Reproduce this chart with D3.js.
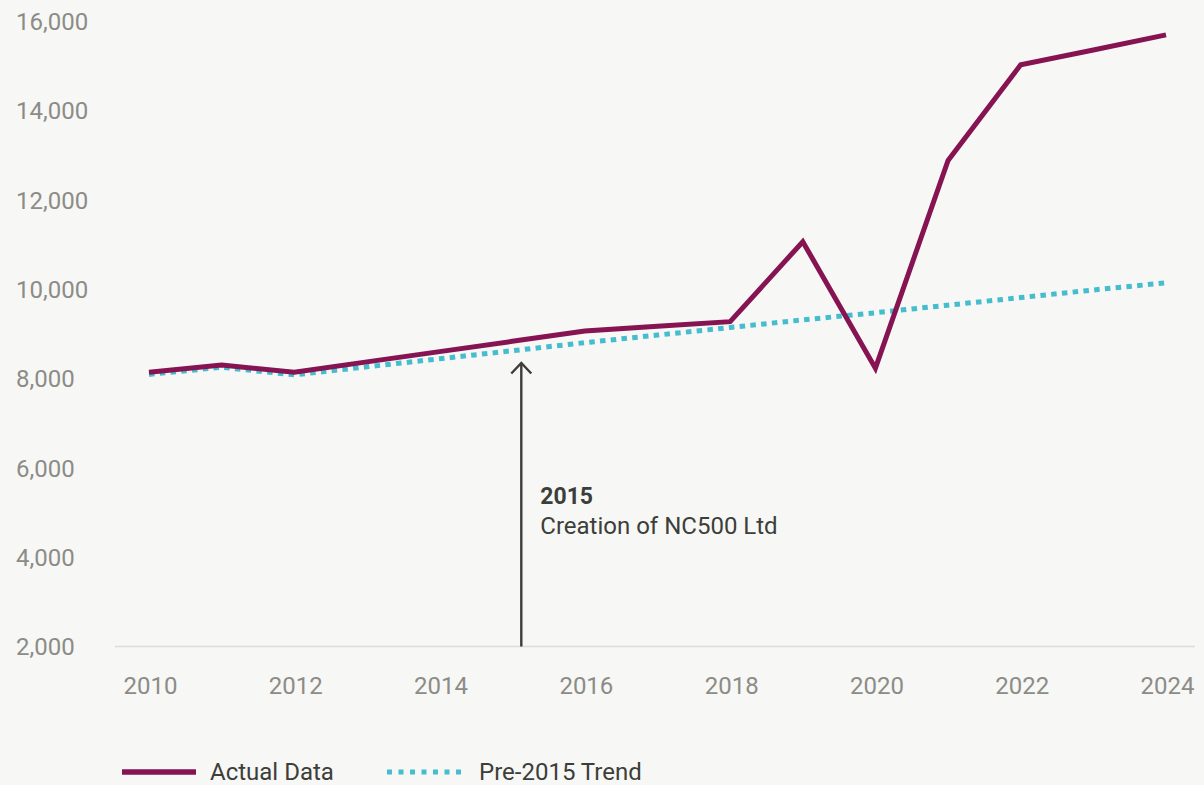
<!DOCTYPE html>
<html>
<head>
<meta charset="utf-8">
<script src="https://cdn.jsdelivr.net/npm/d3@7"></script>
<style>
  html, body { margin: 0; padding: 0; background: #f7f7f5; }
  svg { display: block; font-family: Roboto, "Noto Sans", sans-serif; }
</style>
</head>
<body>
<svg id="chart" width="1204" height="785"></svg>
<script>
// Yearly visitor figures and the straight-line trend projected from before 2015
const years = [2010, 2011, 2012, 2013, 2014, 2015, 2016, 2017, 2018, 2019, 2020, 2021, 2022, 2023, 2024];
const actualData = [8140, 8300, 8140, 8370, 8600, 8830, 9060, 9170, 9270, 11060, 8230, 12880, 15020, 15350, 15690];
const trendData = [8090, 8250, 8080, 8260, 8440, 8620, 8800, 8970, 9140, 9310, 9470, 9640, 9810, 9980, 10140];
const yTicks = [2000, 4000, 6000, 8000, 10000, 12000, 14000, 16000];
const xTicks = [2010, 2012, 2014, 2016, 2018, 2020, 2022, 2024];
const seriesNames = ["Actual Data", "Pre-2015 Trend"];
const annotationYear = 2015.125;
const annotationTitle = "2015";
const annotationText = "Creation of NC500 Ltd";

const colors = { actual: "#861352", trend: "#45bdcf", tick: "#8c8c87", ink: "#3c3e39", base: "#dcdcd9" };

const svg = d3.select("#chart");
const x = d3.scaleLinear().domain([2010, 2024]).range([149, 1166]);
const y = d3.scaleLinear().domain([2000, 16000]).range([646.5, 21]);

// baseline at the bottom of the value range
svg.append("line")
  .attr("x1", 115).attr("x2", 1195)
  .attr("y1", y(2000)).attr("y2", y(2000))
  .attr("stroke", colors.base).attr("stroke-width", 1.5);

// y axis labels, left aligned
const yAxis = d3.axisLeft(y).tickValues(yTicks).tickFormat(d3.format(",")).tickSize(0);
const gy = svg.append("g").attr("transform", "translate(16,0)").call(yAxis);
gy.select(".domain").remove();
gy.selectAll("text")
  .attr("x", 0).attr("text-anchor", "start").attr("dy", "0.35em")
  .attr("fill", colors.tick).style("font-size", "24px").style("font-family", "Roboto");

// x axis labels
const xAxis = d3.axisBottom(x).tickValues(xTicks).tickFormat(d3.format("d")).tickSize(0);
const gx = svg.append("g").attr("transform", "translate(1,677)").call(xAxis);
gx.select(".domain").remove();
gx.selectAll("text")
  .attr("y", 0).attr("dy", "0.71em")
  .attr("fill", colors.tick).style("font-size", "24px").style("font-family", "Roboto");

const line = (vals) => d3.line().x((d, i) => x(years[i])).y(d => y(d))(vals);

// projected trend, drawn beneath the actual series
svg.append("path")
  .attr("d", line(trendData))
  .attr("fill", "none").attr("stroke", colors.trend)
  .attr("stroke-width", 5).attr("stroke-dasharray", "5.5,5.3");

svg.append("path")
  .attr("d", line(actualData))
  .attr("fill", "none").attr("stroke", colors.actual)
  .attr("stroke-width", 5).attr("stroke-linejoin", "miter");

// annotation arrow marking the company's creation
const ax = x(annotationYear);
const tipY = 362;
svg.append("line")
  .attr("x1", ax).attr("x2", ax).attr("y1", y(2000)).attr("y2", tipY + 1)
  .attr("stroke", colors.ink).attr("stroke-width", 2.4);
svg.append("path")
  .attr("d", `M${ax - 10},${tipY + 11.5}L${ax},${tipY + 1}L${ax + 10},${tipY + 11.5}`)
  .attr("fill", "none").attr("stroke", colors.ink).attr("stroke-width", 2.4);
svg.append("text")
  .attr("x", ax + 19).attr("y", 504)
  .attr("fill", colors.ink).style("font-size", "23px").style("font-weight", "700")
  .text(annotationTitle);
svg.append("text")
  .attr("x", ax + 19).attr("y", 534)
  .attr("fill", colors.ink).style("font-size", "24px")
  .text(annotationText);

// legend
const legend = svg.append("g");
legend.append("line")
  .attr("x1", 122).attr("x2", 196).attr("y1", 772).attr("y2", 772)
  .attr("stroke", colors.actual).attr("stroke-width", 5.5);
legend.append("text")
  .attr("x", 210).attr("y", 780).attr("fill", colors.ink)
  .style("font-size", "24px").text(seriesNames[0]);
legend.append("line")
  .attr("x1", 387).attr("x2", 461).attr("y1", 772).attr("y2", 772)
  .attr("stroke", colors.trend).attr("stroke-width", 5).attr("stroke-dasharray", "5,6.5");
legend.append("text")
  .attr("x", 479).attr("y", 780).attr("fill", colors.ink)
  .style("font-size", "24px").text(seriesNames[1]);
</script>
</body>
</html>
